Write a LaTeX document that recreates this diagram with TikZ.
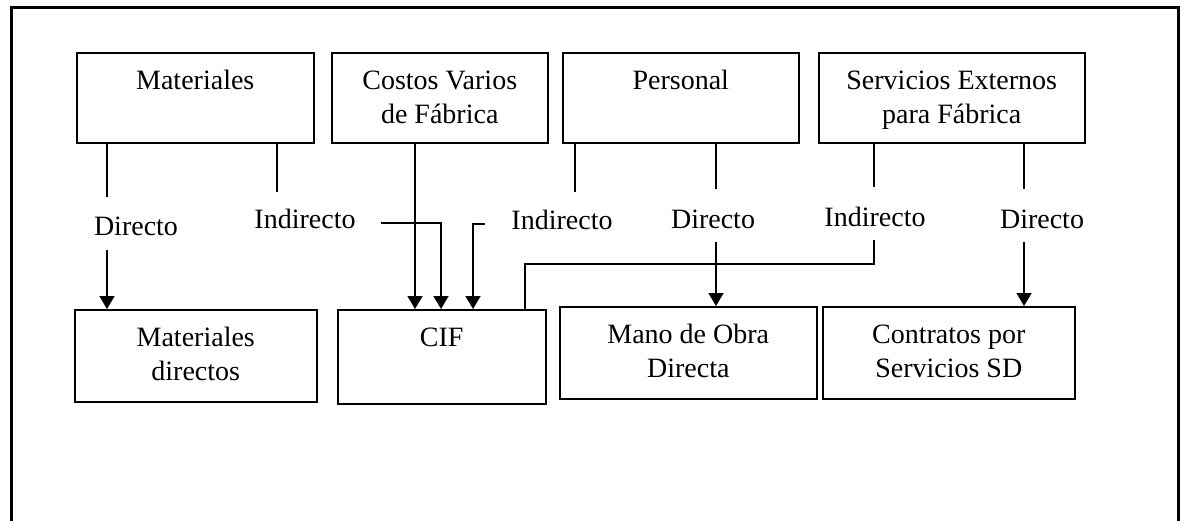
\documentclass[tikz,border=0pt]{standalone}
\usepackage{fontspec}
\setmainfont{Liberation Serif}
\usetikzlibrary{arrows.meta}
\newcommand{\boxtxt}[3]{\parbox[b][#2][t]{#1}{\centering\rule{0pt}{18.5pt}#3}}

\begin{document}
\begin{tikzpicture}[
    x=0.5pt,y=-0.5pt,line width=.75pt,
    font=\fontsize{14}{17}\selectfont,
    box/.style={draw,inner sep=0pt,anchor=north west},
    lbl/.style={inner sep=0pt,anchor=base},
    arr/.style={-{Triangle[width=7.5pt,length=6.5pt]}}
    ]
    \useasboundingbox (0,0) rectangle (1186,520);
    \draw[line width=1.5pt] (11,530) -- (11,7) -- (1178,7) -- (1178,530);
    % origen de los costos
    \node[box] (mat) at (76,52) {\boxtxt{118.5pt}{45pt}{Materiales}};
    \node[box] (cvf) at (331,52) {\boxtxt{108pt}{45pt}{Costos Varios\\de Fábrica}};
    \node[box] (pers) at (562,52) {\boxtxt{118pt}{45pt}{Personal}};
    \node[box] (sef) at (818,52) {\boxtxt{133pt}{45pt}{Servicios Externos\\para Fábrica}};
    % destino
    \node[box] (md) at (74,309) {\boxtxt{121pt}{46pt}{Materiales\\directos}};
    \node[box] (cif) at (337,309) {\boxtxt{104pt}{47pt}{CIF}};
    \node[box] (mod) at (559,306) {\boxtxt{128.5pt}{46pt}{Mano de Obra\\Directa}};
    \node[box] (csd) at (822,306) {\boxtxt{126pt}{46pt}{Contratos por\\Servicios SD}};
    % etiquetas
    \node[lbl] (d1) at (136,235) {Directo};
    \node[lbl] (i1) at (305,228) {Indirecto};
    \node[lbl] (i2) at (562,229) {Indirecto};
    \node[lbl] (d2) at (713,228) {Directo};
    \node[lbl] (i3) at (875,226) {Indirecto};
    \node[lbl] (d3) at (1042,228) {Directo};
    % Materiales
    \draw (107,0 |- mat.south) -- (107,197);
    \draw[arr] (107,250) -- (107,0 |- md.north);
    \draw (277,0 |- mat.south) -- (277,192);
    \draw[arr] (381,223) -| (441,0 |- cif.north);
    % Costos Varios
    \draw[arr] (415,0 |- cvf.south) -- (415,0 |- cif.north);
    % Personal
    \draw (575,0 |- pers.south) -- (575,192);
    \draw[arr] (485,224) -| (473,0 |- cif.north);
    \draw (716,0 |- pers.south) -- (716,189);
    \draw[arr] (716,242) -- (716,0 |- mod.north);
    % Servicios Externos
    \draw (874,0 |- sef.south) -- (874,187);
    \draw (874,240) |- (525,264) -- (525,0 |- cif.north);
    \draw (1024,0 |- sef.south) -- (1024,189);
    \draw[arr] (1024,242) -- (1024,0 |- csd.north);
\end{tikzpicture}
\end{document}
